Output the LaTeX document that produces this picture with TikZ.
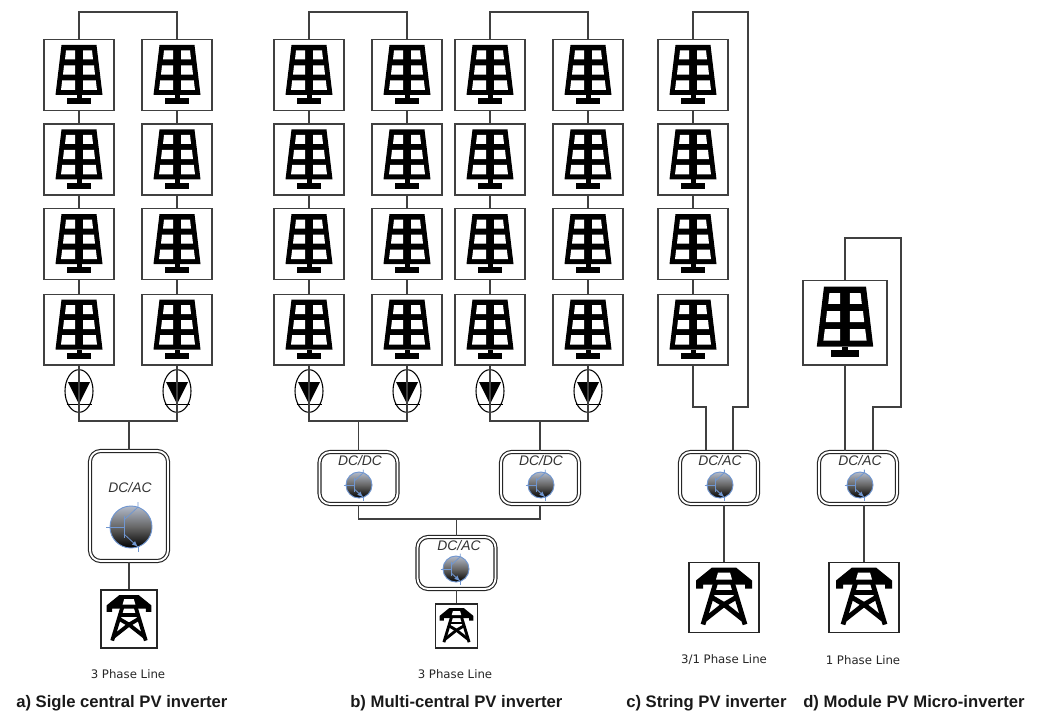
\documentclass[tikz,border=0pt]{standalone}
\usepackage{fontspec}
\setmainfont{Liberation Sans}
\newfontfamily\phasefont{DejaVu Sans}
\usetikzlibrary{shapes.geometric}
\definecolor{wirecol}{gray}{.25}
\definecolor{trblue}{RGB}{112,150,208}
\definecolor{trtop}{RGB}{178,186,202}
\tikzset{
	wire/.style={draw=wirecol,line width=.8pt},
	pvbox/.style={draw=wirecol,line width=1pt,inner sep=0pt,minimum width=52.5pt,minimum height=53pt},
	pvboxb/.style={pvbox,minimum width=63pt,minimum height=63.5pt},
	towerbox/.style={draw=black!85,line width=.9pt,inner sep=0pt,minimum width=52.5pt,minimum height=53pt},
	invbox/.style={draw=black!85,line width=.85pt,double=white,double distance=1.4pt,rounded corners=8pt,inner sep=0pt,minimum width=58.5pt,minimum height=39pt},
	diodebox/.style={ellipse,draw=black,line width=.8pt,inner sep=0pt,minimum width=21pt,minimum height=32pt},
	invtext/.style={font=\itshape\fontsize{10.4}{12}\selectfont,text=black!80,inner sep=0pt},
	phasetext/.style={font=\phasefont\fontsize{8.8}{10}\selectfont,text=black!85,inner sep=0pt},
	captext/.style={font=\bfseries\fontsize{12.5}{15}\selectfont,text=black!90,inner sep=0pt,anchor=west},
	pics/pvicon/.style={code={
		\fill[black] (-17.5,-30)--(17.5,-30)--(23.5,20)--(-23.5,20)--cycle;
		\fill[black] (-2.5,20) rectangle (2.5,24);
		\fill[black] (-12,23) rectangle (12,29);
		\fill[white] (-13,-24.5)--(-4,-24.5)--(-4,-15.5)--(-14,-15.5)--cycle;
		\fill[white] (13,-24.5)--(4,-24.5)--(4,-15.5)--(14,-15.5)--cycle;
		\fill[white] (-15,-9.5)--(-4,-9.5)--(-4,-.3)--(-16,-.3)--cycle;
		\fill[white] (15,-9.5)--(4,-9.5)--(4,-.3)--(16,-.3)--cycle;
		\fill[white] (-16.8,5.5)--(-4,5.5)--(-4,15)--(-18,15)--cycle;
		\fill[white] (16.8,5.5)--(4,5.5)--(4,15)--(18,15)--cycle;
	}},
	pics/diodeicon/.style={code={
		\fill[black] (-11,-9)--(11,-9)--(0,13)--cycle;
		\draw[line width=.5pt] (-12.5,13)--(12.5,13);
	}},
	pics/tower/.style={code={
		\begin{scope}[line width=#1*3.6pt,black]
		\fill (-28,-9)--(-28,-17)--(-12,-30)--(12,-30)--(28,-17)--(28,-9)--(21,-9)--(21,-13)--(-21,-13)--(-21,-9)--cycle;
		\fill[white] (-6,-25)--(6,-25)--(8,-18)--(-8,-18)--cycle;
		\draw (-8,-16)--(-21,27);
		\draw (8,-16)--(21,27);
		\draw (-11,-5)--(11,-5);
		\draw (-12,0)--(0,7)--(12,0);
		\draw (0,7)--(-19,22);
		\draw (0,7)--(19,22);
		\end{scope}
	}},
	pics/transistor/.style={code={
		\shade[top color=trtop,bottom color=black,middle color=black!60] (0,0) circle (21);
		\draw[trblue,line width=.7pt] (0,0) circle (21);
		\draw[trblue,line width=.6pt] (-25,0)--(-7,0);
		\draw[trblue,line width=.6pt] (-7,-11)--(-7,11);
		\draw[trblue,line width=.6pt] (-7,-7)--(7,-20)--(7,-25);
		\draw[trblue,line width=.6pt,-latex] (-7,7)--(7,20);
		\draw[trblue,line width=.6pt] (7,20)--(7,25);
	}}
}
\begin{document}
\begin{tikzpicture}[x=.75pt,y=-.75pt]
		\useasboundingbox (0,0) rectangle (1038,713);
		\foreach \nm/\x in {a1/79,a2/177,b1/309,b2/407,b3/490,b4/588,c1/693}{
			\foreach \r/\y in {1/75,2/159.5,3/244,4/329.5}{
				\node[pvbox] (\nm\r) at (\x,\y) {};
				\pic at (\nm\r) {pvicon};
			}
			\draw[wire] (\nm1)--(\nm2);
			\draw[wire] (\nm2)--(\nm3);
			\draw[wire] (\nm3)--(\nm4);
		}
		\node[pvboxb] (d1) at (845,322.5) {};
		\pic[scale=1.2] at (d1) {pvicon};
		
		\foreach \nm/\x in {a1/79,a2/177,b1/309,b2/407,b3/490,b4/588}{
			\node[diodebox] (dd\nm) at (\x,391) {};
			\pic at (dd\nm) {diodeicon};
		}
		
		\node[invbox,minimum height=82.5pt] (inva) at (129,506) {};
		\node[invbox] (invb1) at (358.5,478) {};
		\node[invbox] (invb2) at (540,478) {};
		\node[invbox] (invb3) at (456.5,563) {};
		\node[invbox] (invc) at (719,478) {};
		\node[invbox] (invd) at (858,478) {};
		
		\node[invtext] (ta) at (130,488) {DC/AC};
		\node[invtext] (tb1) at (360,461) {DC/DC};
		\node[invtext] (tb2) at (541,461) {DC/DC};
		\node[invtext] (tb3) at (459,546) {DC/AC};
		\node[invtext] (tc) at (720,461) {DC/AC};
		\node[invtext] (td) at (860,461) {DC/AC};
		
		\pic at (131,527) {transistor};
		\pic[scale=.62] at (359,485) {transistor};
		\pic[scale=.62] at (541,485) {transistor};
		\pic[scale=.62] at (456,569) {transistor};
		\pic[scale=.62] at (720,485) {transistor};
		\pic[scale=.62] at (860,485) {transistor};
		
		\node[towerbox,minimum width=42pt,minimum height=43.5pt] (twa) at (129,619) {};
		\pic[scale=.8] at (twa) {tower=.8};
		\node[towerbox,minimum width=32pt,minimum height=33pt] (twb) at (456.5,626) {};
		\pic[scale=.6] at (twb) {tower=.6};
		\node[towerbox] (twc) at (724,597.5) {};
		\pic at (twc) {tower=1};
		\node[towerbox] (twd) at (864,597.5) {};
		\pic at (twd) {tower=1};
		
		\coordinate (topa) at (128,12);
		\coordinate (busa) at (129,421);
		\coordinate (topb1) at (358,12);
		\coordinate (topb2) at (539,12);
		\coordinate (busb1) at (358.5,421);
		\coordinate (busb2) at (540,421);
		\coordinate (busb3) at (456.5,519);
		\coordinate (topc) at (748,12);
		\coordinate (jogcr) at (748,407);
		\coordinate (incr) at (733,450);
		\coordinate (jogcl) at (693,407);
		\coordinate (incl) at (706,450);
		\coordinate (topd) at (901,238);
		\coordinate (jogd) at (901,407);
		\coordinate (indr) at (873,450);
		
		\draw[wire] (a11.north) |- (topa) -| (a21.north);
		\draw[wire] (b11.north) |- (topb1) -| (b21.north);
		\draw[wire] (b31.north) |- (topb2) -| (b41.north);
		\draw[wire] (c11.north) |- (topc)--(jogcr) -| (incr);
		\draw[wire] (c14.south)--(jogcl) -| (incl);
		\draw[wire] (d1.north) |- (topd)--(jogd) -| (indr);
		\draw[wire] (d1.south)--(d1.south |- invd.north);
		
		\draw[wire] (a14.south) |- (busa) -| (a24.south);
		\draw[wire] (busa)--(inva.north);
		\draw[wire] (inva.south)--(twa.north);
		\draw[wire] (b14.south) |- (busb1) -| (b24.south);
		\draw[wire] (busb1)--(invb1.north);
		\draw[wire] (b34.south) |- (busb2) -| (b44.south);
		\draw[wire] (busb2)--(invb2.north);
		\draw[wire] (invb1.south) |- (busb3) -| (invb2.south);
		\draw[wire] (busb3)--(invb3.north);
		\draw[wire] (invb3.south)--(twb.north);
		\draw[wire] (twc.north |- invc.south)--(twc.north);
		\draw[wire] (twd.north |- invd.south)--(twd.north);
		
		\node[phasetext] (pa) at (128,674) {3 Phase Line};
		\node[phasetext] (pb) at (455,674) {3 Phase Line};
		\node[phasetext] (pc) at (724,660) {3/1 Phase Line};
		\node[phasetext] (pd) at (863,660) {1 Phase Line};
		
		\node[captext] (capa) at (16,703) {a) Sigle central PV inverter};
		\node[captext] (capb) at (350,703) {b) Multi-central PV inverter};
		\node[captext] (capc) at (626,703) {c) String PV inverter};
		\node[captext] (capd) at (803,703) {d) Module PV Micro-inverter};
		
		\end{tikzpicture}
\end{document}
